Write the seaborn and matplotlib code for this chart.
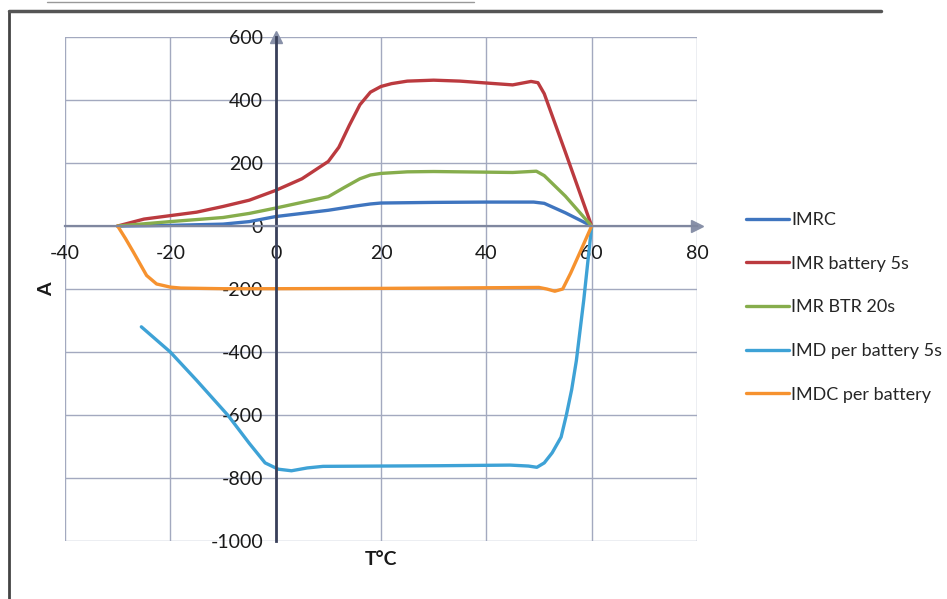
import matplotlib
matplotlib.use("Agg")
import matplotlib.pyplot as plt
import seaborn as sns
from matplotlib import font_manager
from matplotlib.lines import Line2D

# Data (T in degC, current in A)
imrc_t = [-30, -20, -10, -5, 0, 5, 10, 15, 18, 20, 30, 40, 49, 51, 55, 60]
imrc_a = [0, 2, 6, 14, 30, 40, 50, 63, 70, 73, 75, 76, 76, 72, 42, 0]

imr5_t = [-30, -25, -20, -15, -10, -5, 0, 5, 10, 12, 14, 16, 18, 20, 22, 25, 30, 35, 40, 45, 48.5, 49.8, 51, 55, 60]
imr5_a = [0, 22, 33, 44, 62, 82, 113, 150, 205, 250, 320, 385, 425, 443, 452, 460, 463, 460, 454, 448, 459, 455, 420, 235, 0]

btr_t = [-30, -20, -10, -5, 0, 5, 10, 13, 16, 18, 20, 25, 30, 40, 45, 49.5, 51, 55, 60]
btr_a = [0, 14, 27, 40, 57, 75, 93, 122, 150, 162, 167, 172, 173, 171, 170, 174, 160, 95, 0]

imd_t = [-25.5, -20, -15, -9, -5, -2, 0.5, 3, 6, 9, 20, 31, 44.5, 48, 49.6, 51, 52.5, 54.2, 55.2, 56.2, 57.1, 58.5, 60]
imd_a = [-320, -400, -490, -602, -690, -752, -772, -777, -768, -763, -762, -761, -759, -762, -766, -752, -720, -670, -600, -520, -427, -235, 0]

imdc_t = [-30, -28.5, -27, -24.5, -22.6, -20, -18, -10, 0, 20, 40, 50, 51.5, 53, 54.5, 56, 57.8, 60]
imdc_a = [0, -40, -83, -157, -184, -194, -197, -199, -199, -198, -196, -195, -200, -207, -200, -150, -83, 0]

series = [
    ("IMRC", imrc_t, imrc_a, "#3f75bf"),
    ("IMR battery 5s", imr5_t, imr5_a, "#bb3a3f"),
    ("IMR BTR 20s", btr_t, btr_a, "#86ad4c"),
    ("IMD per battery 5s", imd_t, imd_a, "#3ea2d6"),
    ("IMDC per battery", imdc_t, imdc_a, "#f6922f"),
]

x_ticks = [-40, -20, 0, 20, 40, 60, 80]
y_ticks = [-1000, -800, -600, -400, -200, 0, 200, 400, 600]

sns.set_theme(style="whitegrid")
names = {f.name for f in font_manager.fontManager.ttflist}
main_font = "Lato" if "Lato" in names else "Liberation Sans"
plt.rcParams["font.family"] = [main_font, "DejaVu Sans"]
plt.rcParams["axes.unicode_minus"] = False

fig = plt.figure(figsize=(9.47, 5.99), dpi=100)
ax = fig.add_axes([0.0686, 0.0968, 0.6674, 0.8414])

for label, t, a, col in series:
    sns.lineplot(x=t, y=a, ax=ax, color=col, linewidth=2.4, label=label, sort=False)

ax.set_xlim(-40, 80)
ax.set_ylim(-1000, 600)
ax.set_xticks(x_ticks)
ax.set_yticks(y_ticks)
ax.grid(True, color="#a3a9bf", linewidth=1.0)
ax.set_facecolor("white")

# axes crossing at zero, Excel style
for side in ["top", "right"]:
    ax.spines[side].set_visible(False)
ax.spines["left"].set_position(("data", 0))
ax.spines["bottom"].set_position(("data", 0))
ax.spines["left"].set_color("#39405a")
ax.spines["left"].set_linewidth(2.0)
ax.spines["bottom"].set_color("#7f879f")
ax.spines["bottom"].set_linewidth(1.6)
ax.plot(0, 1, "^", transform=ax.get_xaxis_transform(), clip_on=False, color="#8890a8", markersize=8)
ax.plot(1, 0, ">", transform=ax.get_yaxis_transform(), clip_on=False, color="#8890a8", markersize=8)

ax.tick_params(axis="both", which="both", length=4, width=1, color="#555b70",
               labelsize=14, labelcolor="#1a1a1a")
ax.tick_params(axis="x", pad=10, direction="out")
ax.tick_params(axis="y", pad=5, direction="out")

ax.set_xlabel("T°C", fontsize=14, fontweight="bold", color="#1a1a1a")
ax.set_ylabel("A", fontsize=14, fontweight="bold", color="#1a1a1a")
ax.xaxis.set_label_coords(0.5, -0.02)
ax.yaxis.set_label_coords(-0.016, 0.5)

ax.legend(loc="upper left", bbox_to_anchor=(0.778, 0.661), bbox_transform=fig.transFigure,
          frameon=False, fontsize=13, handlelength=2.4, handletextpad=0.1,
          labelspacing=1.53, borderpad=0)

# scanned page border
fig.add_artist(Line2D([0.009, 0.009], [0.0, 0.982], color="#444444", linewidth=2))
fig.add_artist(Line2D([0.009, 0.93], [0.982, 0.982], color="#555555", linewidth=2.5))
fig.add_artist(Line2D([0.05, 0.5], [0.997, 0.997], color="#999999", linewidth=1))

fig.savefig("out.png", dpi=100)
